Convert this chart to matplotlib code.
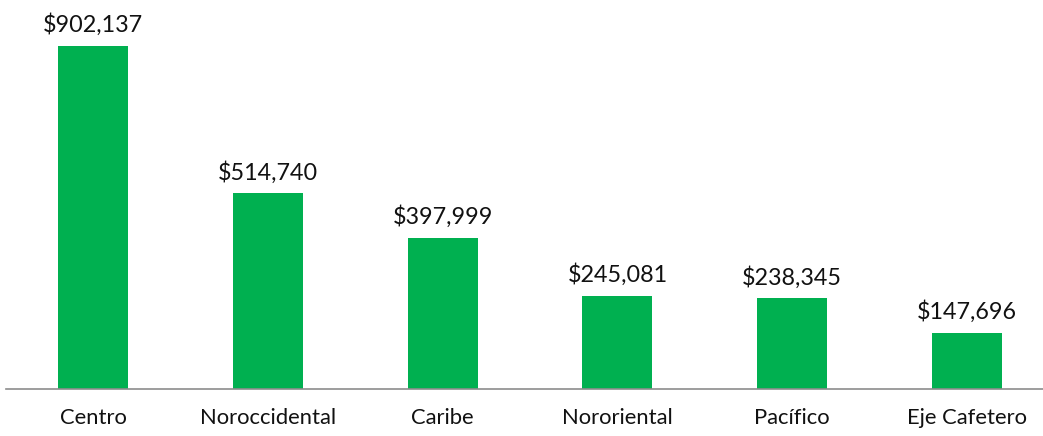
import matplotlib.pyplot as plt

regiones = ["Centro", "Noroccidental", "Caribe", "Nororiental", "Pacífico", "Eje Cafetero"]
valores = [902137, 514740, 397999, 245081, 238345, 147696]

plt.rcParams['font.family'] = ['Lato', 'DejaVu Sans']

fig = plt.figure(figsize=(10.43, 4.36), dpi=100)
# axes: bottom edge at the baseline, spanning the full width
ax = fig.add_axes([6 / 1043, 47 / 436, 1037 / 1043, 389 / 436])

x = range(len(regiones))
bars = ax.bar(x, valores, width=0.4, color="#00B050")

for b, v in zip(bars, valores):
    ax.annotate("${:,}".format(v), (b.get_x() + b.get_width() / 2, v),
                xytext=(0, 7), textcoords="offset points",
                ha="center", va="bottom", fontsize=16.8, color="#111111")

ax.set_xlim(-0.5, 5.436)
ax.set_ylim(0, 1023000)
ax.set_xticks(list(x))
ax.set_xticklabels(regiones, fontsize=15.8, color="#111111")
ax.tick_params(axis="x", length=0, pad=14)
ax.set_yticks([])
for s in ["top", "right", "left"]:
    ax.spines[s].set_visible(False)
ax.spines["bottom"].set_color("#8c8c8c")
ax.spines["bottom"].set_linewidth(1.2)

fig.savefig("out.png", dpi=100)
